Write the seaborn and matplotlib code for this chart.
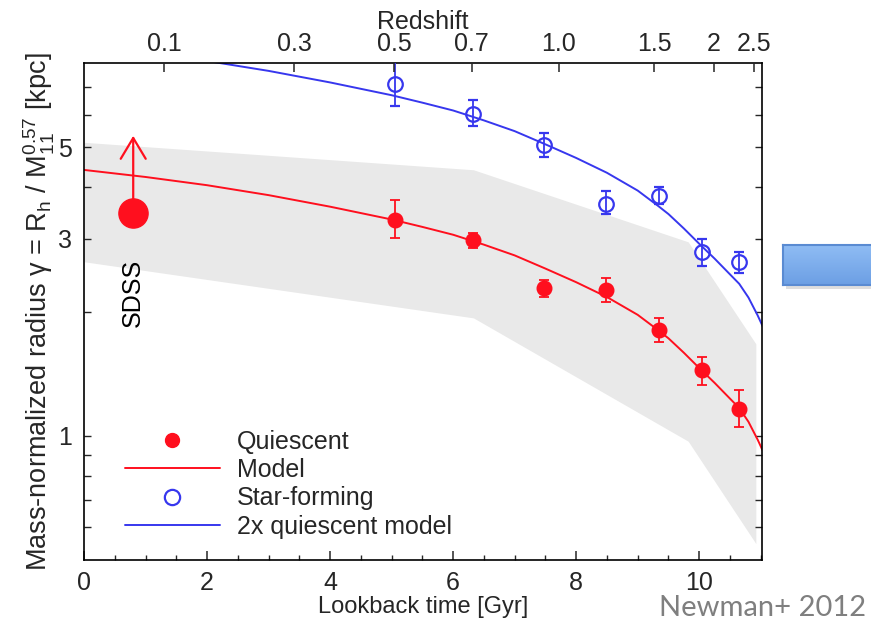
import numpy as np
import pandas as pd
import matplotlib
matplotlib.use("Agg")
import matplotlib.pyplot as plt
import seaborn as sns
from matplotlib.lines import Line2D
from matplotlib.patches import Rectangle
from matplotlib.colors import LinearSegmentedColormap
from matplotlib.ticker import FixedLocator, FixedFormatter, NullFormatter

# ---- data -------------------------------------------------------------
# lookback time [Gyr] of the redshift bins
bin_time = [5.06, 6.33, 7.48, 8.48, 9.34, 10.04, 10.65]

# quiescent galaxies: mass-normalized radius and 1-sigma range
quiescent = [3.34, 2.98, 2.28, 2.26, 1.80, 1.44, 1.16]
quiescent_lo = [3.01, 2.85, 2.17, 2.11, 1.685, 1.33, 1.05]
quiescent_hi = [3.73, 3.10, 2.38, 2.41, 1.93, 1.55, 1.29]

# star-forming galaxies
starforming = [7.12, 6.03, 5.05, 3.65, 3.82, 2.79, 2.63]
starforming_lo = [6.28, 5.62, 4.73, 3.44, 3.65, 2.58, 2.48]
starforming_hi = [8.07, 6.50, 5.40, 3.91, 4.00, 2.99, 2.78]

# local SDSS lower limit
sdss_time = 0.8
sdss_gamma = 3.47
sdss_limit = 5.33

# size-evolution model for quiescent galaxies
model_time = [0, 1, 2, 3, 4, 5, 5.5, 6, 6.5, 7, 7.5, 8, 8.5, 9, 9.33, 9.5,
              9.75, 10, 10.25, 10.5, 10.65, 10.8, 10.95, 11.05]
model_gamma = [4.406, 4.236, 4.046, 3.828, 3.589, 3.342, 3.206, 3.069, 2.904,
               2.735, 2.541, 2.355, 2.168, 1.963, 1.803, 1.722, 1.589, 1.459,
               1.343, 1.230, 1.167, 1.081, 0.978, 0.908]

# scatter envelope of the population
band_time = [0, 6.33, 9.82, 10.92]
band_upper = [5.14, 4.41, 2.95, 1.67]
band_lower = [2.64, 1.93, 0.97, 0.548]

# redshift labels for the top axis
redshift_ticks = [0.1, 0.3, 0.5, 0.7, 1.0, 1.5, 2.0, 2.5]
redshift_labels = ["0.1", "0.3", "0.5", "0.7", "1.0", "1.5", "2", "2.5"]

# ---- style ------------------------------------------------------------
RED = "#ff0f1e"
BLUE = "#3737ee"
BAND = "#e9e9e9"

sns.set_style("white")
plt.rcParams["font.family"] = ["Liberation Sans", "DejaVu Sans"]
plt.rcParams["mathtext.fontset"] = "custom"
plt.rcParams["mathtext.rm"] = "Liberation Sans"
plt.rcParams["mathtext.it"] = "Liberation Sans:italic"
plt.rcParams["mathtext.bf"] = "Liberation Sans:bold"
plt.rcParams["mathtext.sf"] = "Liberation Sans"
FS = 18


def lookback_gyr(z, h0=70.0, om=0.3):
    """Lookback time in a flat LCDM cosmology."""
    zz = np.linspace(0.0, z, 4001)
    integrand = 1.0 / ((1 + zz) * np.sqrt(om * (1 + zz) ** 3 + 1 - om))
    return 977.8 / h0 * np.trapezoid(integrand, zz)


W, H = 871, 630
fig = plt.figure(figsize=(W / 100, H / 100), dpi=100)
ax = fig.add_axes([84 / W, 1 - 560 / H, 678 / W, 497 / H])

ax.set_yscale("log")
ax.set_xlim(0, 11.02)
ax.set_ylim(0.5, 8.0)

# envelope
ax.fill_between(band_time, band_lower, band_upper, color=BAND, lw=0, zorder=0)

# models
model = pd.DataFrame({"t": model_time, "gamma": model_gamma})
model["gamma2"] = 2 * model["gamma"]
sns.lineplot(data=model, x="t", y="gamma", ax=ax, color=RED, lw=1.4,
             sort=False, zorder=2)
sns.lineplot(data=model, x="t", y="gamma2", ax=ax, color=BLUE, lw=1.4,
             sort=False, zorder=2)

# measurements
q = np.array(quiescent)
ax.errorbar(bin_time, q, yerr=[q - np.array(quiescent_lo), np.array(quiescent_hi) - q],
            fmt="o", ms=10.5, color=RED, ecolor=RED, elinewidth=1.3,
            capsize=3.5, capthick=1.3, zorder=4)
s = np.array(starforming)
ax.errorbar(bin_time, s, yerr=[s - np.array(starforming_lo), np.array(starforming_hi) - s],
            fmt="o", ms=10.5, mfc="none", mec=BLUE, mew=1.6, ecolor=BLUE,
            elinewidth=1.3, capsize=3.5, capthick=1.3, zorder=4)

# SDSS point with lower-limit arrow
ax.annotate("", xy=(sdss_time, sdss_limit), xytext=(sdss_time, sdss_gamma),
            arrowprops=dict(arrowstyle="->,head_length=0.75,head_width=0.45",
                            color=RED, lw=1.6, mutation_scale=20,
                            shrinkA=0, shrinkB=0), zorder=3)
ax.plot([sdss_time], [sdss_gamma], "o", ms=21, color=RED, zorder=5)
ax.text(sdss_time, 2.22, "SDSS", rotation=90, ha="center", va="center",
        fontsize=FS, color="black")

# axes, ticks
for sp in ax.spines.values():
    sp.set_linewidth(1.2)
    sp.set_color("black")

ax.xaxis.set_major_locator(FixedLocator([0, 2, 4, 6, 8, 10]))
ax.xaxis.set_minor_locator(FixedLocator(np.arange(0, 11.01, 0.5)))
ax.yaxis.set_major_locator(FixedLocator([1, 2, 3, 4, 5, 6, 7]))
ax.yaxis.set_major_formatter(FixedFormatter(["1", "", "3", "", "5", "", ""]))
ax.yaxis.set_minor_locator(FixedLocator([0.6, 0.7, 0.8, 0.9]))
ax.yaxis.set_minor_formatter(NullFormatter())
ax.tick_params(axis="x", which="major", direction="in", length=6.5, width=1.1,
               labelsize=FS, pad=8, top=False, bottom=True)
ax.tick_params(axis="x", which="minor", direction="in", length=3.5, width=1.0,
               top=False, bottom=True)
ax.tick_params(axis="y", which="both", direction="in", length=5, width=1.0,
               labelsize=FS, pad=9, left=True, right=True)

ax.set_xlabel("Lookback time [Gyr]", fontsize=FS - 1, labelpad=1)
ax.set_ylabel("Mass-normalized radius \u03b3 = R$_\\mathrm{h}$ / M$_{11}^{0.57}$ [kpc]",
              fontsize=19.5)
ax.yaxis.set_label_coords(-0.04, 0.5)

# top axis in redshift
top = ax.twiny()
top.set_xlim(ax.get_xlim())
top.xaxis.set_major_locator(FixedLocator([lookback_gyr(z) for z in redshift_ticks]))
top.xaxis.set_major_formatter(FixedFormatter(redshift_labels))
top.xaxis.set_minor_locator(FixedLocator([]))
top.tick_params(axis="x", direction="in", length=6.5, width=1.1,
                labelsize=FS, pad=5)
top.set_xlabel("Redshift", fontsize=FS, labelpad=2)
for sp in top.spines.values():
    sp.set_visible(False)

# legend
handles = [
    Line2D([], [], ls="none", marker="o", ms=10, color=RED),
    Line2D([], [], color=RED, lw=1.4),
    Line2D([], [], ls="none", marker="o", ms=11, mfc="none", mec=BLUE, mew=1.6),
    Line2D([], [], color=BLUE, lw=1.4),
]
labels = ["Quiescent", "Model", "Star-forming", "2x quiescent model"]
ax.legend(handles, labels, loc="upper left", bbox_to_anchor=(0.06, 0.262),
          frameon=False, fontsize=FS, handlelength=3.8, handletextpad=0.7,
          labelspacing=0.17, borderpad=0, borderaxespad=0)

# slide decoration: blue box at the right margin
fig.patches.append(Rectangle((786 / W, 1 - 289 / H), 100 / W, 40 / H,
                             transform=fig.transFigure, facecolor="#c8c8c8",
                             edgecolor="none", alpha=0.6, zorder=2))
box = fig.add_axes([783 / W, 1 - 285 / H, 100 / W, 40 / H], zorder=3)
grad = np.linspace(0, 1, 64).reshape(-1, 1)
cmap = LinearSegmentedColormap.from_list("box", ["#8fbcf4", "#6c9fe4"])
box.imshow(grad, cmap=cmap, aspect="auto", extent=[0, 1, 0, 1], origin="upper")
box.set_xticks([])
box.set_yticks([])
for sp in box.spines.values():
    sp.set_color("#5a8bd2")
    sp.set_linewidth(1.5)

fig.text(866 / W, 1 - 616 / H, "Newman+ 2012", ha="right", va="baseline",
         fontsize=21, color="#7f7f7f", family=["Lato", "DejaVu Sans"])

fig.savefig("out.png", dpi=100)
